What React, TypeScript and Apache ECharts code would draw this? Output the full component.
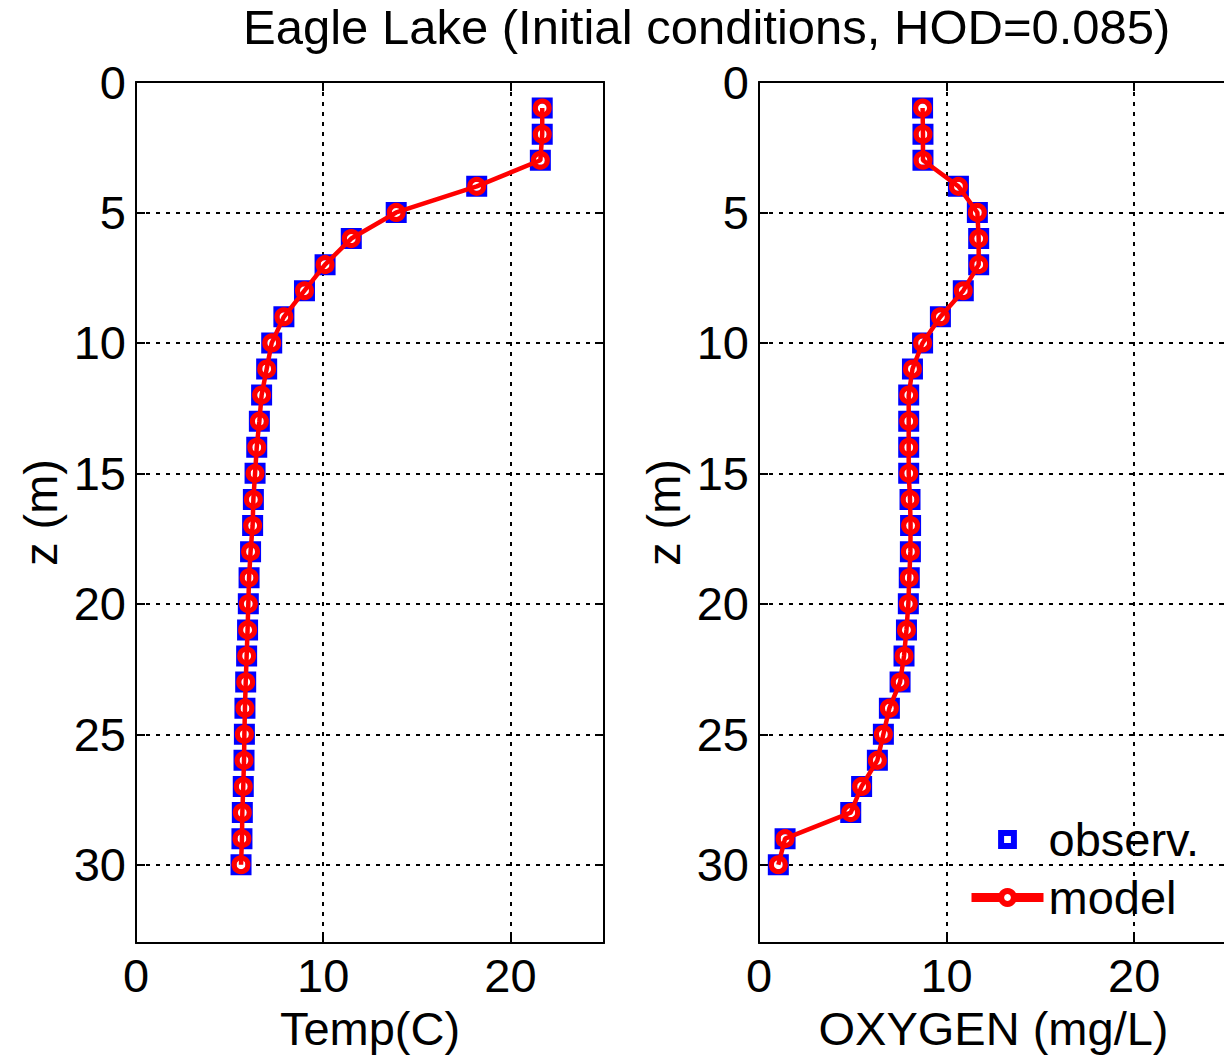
import React, { useEffect, useRef } from "react";
import * as echarts from "echarts";

const depth = [1, 2, 3, 4, 5, 6, 7, 8, 9, 10, 11, 12, 13, 14, 15, 16, 17, 18, 19, 20, 21, 22, 23, 24, 25, 26, 27, 28, 29, 30];
const tempObserved = [21.7, 21.7, 21.6, 18.2, 13.9, 11.5, 10.1, 9.0, 7.9, 7.25, 6.98, 6.71, 6.59, 6.45, 6.36, 6.27, 6.23, 6.12, 6.04, 6.0, 5.96, 5.91, 5.86, 5.82, 5.79, 5.77, 5.73, 5.68, 5.66, 5.61];
const tempModel = [21.7, 21.7, 21.6, 18.2, 13.9, 11.5, 10.1, 9.0, 7.9, 7.25, 6.98, 6.71, 6.59, 6.45, 6.36, 6.27, 6.23, 6.12, 6.04, 6.0, 5.96, 5.91, 5.86, 5.82, 5.79, 5.77, 5.73, 5.68, 5.66, 5.61];
const oxyObserved = [8.72, 8.74, 8.74, 10.63, 11.64, 11.71, 11.71, 10.89, 9.67, 8.72, 8.18, 7.98, 7.98, 7.98, 7.98, 8.05, 8.08, 8.07, 8.01, 7.96, 7.86, 7.73, 7.52, 6.95, 6.63, 6.31, 5.47, 4.89, 1.39, 1.03];
const oxyModel = [8.72, 8.74, 8.74, 10.63, 11.64, 11.71, 11.71, 10.89, 9.67, 8.72, 8.18, 7.98, 7.98, 7.98, 7.98, 8.05, 8.08, 8.07, 8.01, 7.96, 7.86, 7.73, 7.52, 6.95, 6.63, 6.31, 5.47, 4.89, 1.39, 1.03];
const xTicks = [0, 10, 20];
const yTicks = [0, 5, 10, 15, 20, 25, 30];
const titleText = "Eagle Lake (Initial conditions, HOD=0.085)";
const xNames = ["Temp(C)", "OXYGEN (mg/L)"];
const yName = "z (m)";
const legendNames = ["observ.", "model"];

const FONT = "'Liberation Sans', Arial, sans-serif";
const FS = 47;

function pairs(xs: number[]) {
  return xs.map((v, i) => [v, depth[i]]);
}

export default function App() {
  const ref = useRef<HTMLDivElement>(null);
  useEffect(() => {
    document.body.style.margin = "0";
    const chart = echarts.init(ref.current!, null, { renderer: "svg" });
    const grids = [
      { left: 136, top: 82, width: 468, height: 861 },
      { left: 759, top: 82, width: 469, height: 861 },
    ];
    const xAxis: any[] = [];
    const yAxis: any[] = [];
    const tickStyle = { show: true, inside: true, length: 9, lineStyle: { color: "#000", width: 2 } };
    const gridLine = { show: true, lineStyle: { color: "#000", width: 2, type: [4, 6] } };
    grids.forEach((g, gi) => {
      xAxis.push({
        type: "value", gridIndex: gi, min: 0, max: 25, interval: 10, position: "bottom",
        name: xNames[gi], nameLocation: "middle", nameGap: 49,
        nameTextStyle: { fontFamily: FONT, fontSize: FS, color: "#000", lineHeight: 50 },
        axisLine: { show: true, onZero: false, lineStyle: { color: "#000", width: 2 } },
        axisTick: tickStyle,
        axisLabel: {
          margin: 9, fontFamily: FONT, fontSize: FS, color: "#000",
          formatter: (v: number) => (xTicks.includes(v) ? String(v) : ""),
        },
        splitLine: gridLine,
      });
      xAxis.push({
        type: "value", gridIndex: gi, min: 0, max: 25, interval: 10, position: "top",
        axisLine: { show: true, onZero: false, lineStyle: { color: "#000", width: 2 } },
        axisTick: tickStyle, axisLabel: { show: false }, splitLine: { show: false },
      });
      yAxis.push({
        type: "value", gridIndex: gi, min: 0, max: 33, interval: 5, inverse: true, position: "left",
        name: yName, nameLocation: "middle", nameGap: 72, nameRotate: 90,
        nameTextStyle: { fontFamily: FONT, fontSize: FS, color: "#000" },
        axisLine: { show: true, onZero: false, lineStyle: { color: "#000", width: 2 } },
        axisTick: tickStyle,
        axisLabel: {
          margin: 10, fontFamily: FONT, fontSize: FS, color: "#000",
          formatter: (v: number) => (yTicks.includes(v) ? String(v) : ""),
        },
        splitLine: gridLine,
      });
      yAxis.push({
        type: "value", gridIndex: gi, min: 0, max: 33, interval: 5, inverse: true, position: "right",
        axisLine: { show: true, onZero: false, lineStyle: { color: "#000", width: 2 } },
        axisTick: tickStyle, axisLabel: { show: false }, splitLine: { show: false },
      });
    });

    const obsSeries = (data: number[], gi: number) => ({
      name: legendNames[0], type: "line", xAxisIndex: gi * 2, yAxisIndex: gi * 2,
      data: pairs(data), symbol: "rect", symbolSize: 15,
      lineStyle: { width: 0, opacity: 0 },
      itemStyle: { color: "#fff", borderColor: "#0000ff", borderWidth: 6 },
      z: 2,
    });
    const modelSeries = (data: number[], gi: number) => ({
      name: legendNames[1], type: "line", xAxisIndex: gi * 2, yAxisIndex: gi * 2,
      data: pairs(data), symbol: "circle", symbolSize: 14,
      lineStyle: { color: "#ff0000", width: 4.5 },
      itemStyle: { color: "rgba(0,0,0,0)", borderColor: "#ff0000", borderWidth: 5 },
      z: 3,
    });

    chart.setOption({
      animation: false,
      backgroundColor: "#fff",
      title: {
        text: titleText, left: 243, top: 2, padding: 0,
        textStyle: { fontFamily: FONT, fontSize: 49, fontWeight: "normal", color: "#000" },
      },
      grid: grids.map((g) => ({ ...g, show: false, containLabel: false, outerBoundsMode: "none" })),
      xAxis, yAxis,
      legend: {
        left: 967, top: 816, padding: 0, orient: "vertical", itemWidth: 72, itemHeight: 16, itemGap: 11,
        textStyle: { fontFamily: FONT, fontSize: FS, color: "#000" },
        data: [
          { name: legendNames[0], itemStyle: { color: "#fff", borderColor: "#0000ff", borderWidth: 6 } },
          { name: legendNames[1], lineStyle: { width: 9 }, itemStyle: { color: "#fff", borderColor: "#ff0000", borderWidth: 6 } },
        ],
      },
      series: [
        obsSeries(tempObserved, 0), modelSeries(tempModel, 0),
        obsSeries(oxyObserved, 1), modelSeries(oxyModel, 1),
      ],
    });
    return () => chart.dispose();
  }, []);
  return <div ref={ref} style={{ position: "absolute", left: 0, top: 0, width: 1224, height: 1055 }} />;
}
